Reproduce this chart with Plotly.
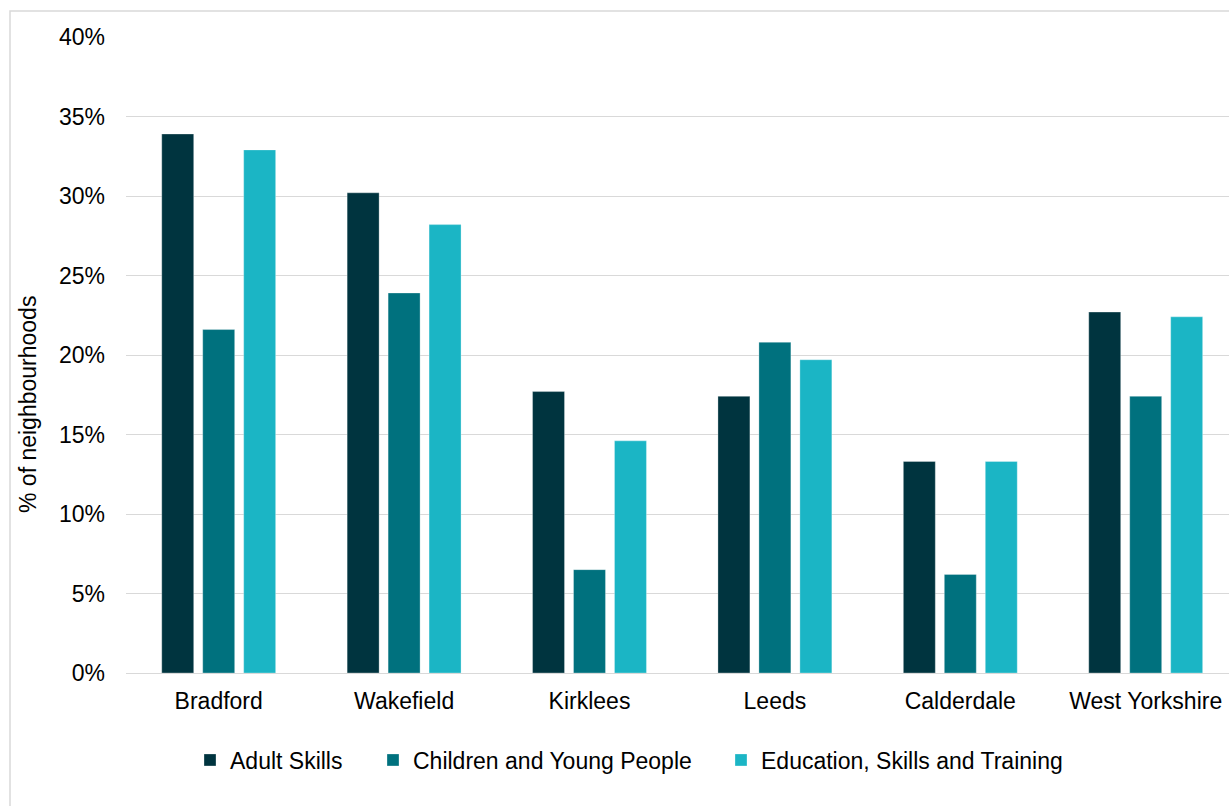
import plotly.graph_objects as go

categories = ["Bradford", "Wakefield", "Kirklees", "Leeds", "Calderdale", "West Yorkshire"]
adult_skills = [0.339, 0.302, 0.177, 0.174, 0.133, 0.227]
children_young_people = [0.216, 0.239, 0.065, 0.208, 0.062, 0.174]
education_skills_training = [0.329, 0.282, 0.146, 0.197, 0.133, 0.224]
series_names = ["Adult Skills", "Children and Young People", "Education, Skills and Training"]
series_colors = ["#00343F", "#00717E", "#1BB5C5"]
y_ticks = [0, 0.05, 0.10, 0.15, 0.20, 0.25, 0.30, 0.35, 0.40]
y_ticklabels = ["0%", "5%", "10%", "15%", "20%", "25%", "30%", "35%", "40%"]

W, H = 1229, 806
ML, MR, MT, MB = 126, 0, 37, 133
PW = W - ML - MR
PH = H - MT - MB

def px_x(p):
    return (p - ML) / PW

def px_y(p):
    return (H - MB - p) / PH

FONT = "Liberation Sans, Arial, sans-serif"
fig = go.Figure()
series_values = [adult_skills, children_young_people, education_skills_training]
legend_ids = ["legend", "legend2", "legend3"]
for name, vals, col, lg in zip(series_names, series_values, series_colors, legend_ids):
    fig.add_trace(go.Bar(
        x=categories, y=vals, name=name, legend=lg,
        marker=dict(color=col, line=dict(color="rgba(255,255,255,0.5)", width=0.6)),
    ))

cat_w = 185.4
x_end = -0.5 + PW / cat_w

legend_common = dict(orientation="h", yanchor="middle", xanchor="left",
                     bgcolor="rgba(0,0,0,0)", borderwidth=0,
                     font=dict(family=FONT, size=23, color="#000000"))
leg_square_left = [206, 389, 737]
layout_legends = {}
for lg, sq in zip(legend_ids, leg_square_left):
    d = dict(legend_common)
    d["x"] = px_x(sq - 14 - 2)
    d["y"] = px_y(760)
    layout_legends[lg] = d

fig.update_layout(
    width=W, height=H,
    margin=dict(l=ML, r=MR, t=MT, b=MB, pad=0),
    paper_bgcolor="white", plot_bgcolor="white",
    barmode="group", bargap=0.337, bargroupgap=0.22,
    font=dict(family=FONT, size=23, color="#000000"),
    showlegend=True,
    xaxis=dict(range=[-0.5, x_end], showgrid=False, zeroline=False,
               showline=False, ticks="", ticklabelstandoff=12,
               tickfont=dict(family=FONT, size=23, color="#000000")),
    yaxis=dict(range=[0, 0.40], tickvals=y_ticks, ticktext=y_ticklabels,
               showgrid=True, gridcolor="#D9D9D9", gridwidth=1.3,
               zeroline=True, zerolinecolor="#D9D9D9", zerolinewidth=1.3,
               showline=False, ticks="", ticklabelstandoff=20,
               tickfont=dict(family=FONT, size=23, color="#000000")),
    annotations=[dict(text="% of neighbourhoods", textangle=-90,
                      xref="paper", yref="paper", x=px_x(28), y=px_y(404),
                      xanchor="center", yanchor="middle", showarrow=False,
                      font=dict(family=FONT, size=23, color="#000000"))],
    shapes=[dict(type="rect", xref="paper", yref="paper",
                 x0=px_x(10), y0=px_y(11), x1=1.2, y1=px_y(900),
                 line=dict(color="#D9D9D9", width=1.5), fillcolor="rgba(0,0,0,0)",
                 layer="below")],
    **layout_legends,
)

fig.write_html("out.html", config={"displayModeBar": False},
               post_script="document.body.style.margin='0';document.body.style.overflow='hidden';")
